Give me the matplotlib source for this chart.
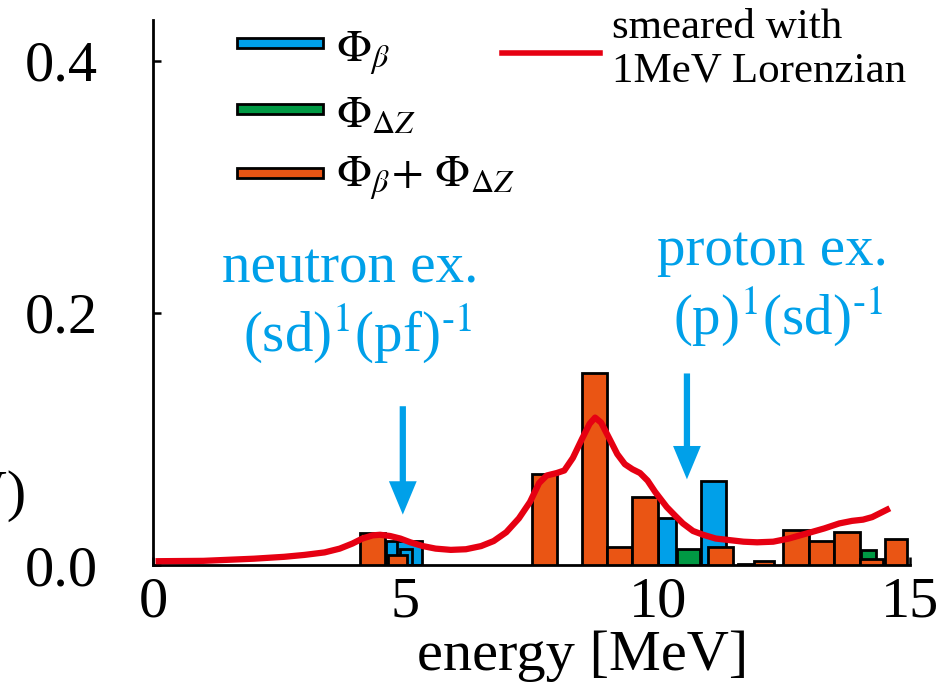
import matplotlib
matplotlib.use("Agg")
import matplotlib.pyplot as plt
from matplotlib.patches import Rectangle
from matplotlib.lines import Line2D

plt.rcParams['font.family'] = ['Liberation Serif', 'DejaVu Serif']
plt.rcParams['mathtext.fontset'] = 'stix'

# Phi_beta bars (left edge [MeV], width [MeV], strength)
beta_left = [4.62, 4.83, 4.90, 10.00, 10.86]
beta_width = [0.50, 0.50, 0.24, 0.36, 0.49]
beta_val = [0.019, 0.019, 0.013, 0.037, 0.067]

# Phi_DeltaZ bars
dz_left = [10.38, 14.03]
dz_width = [0.45, 0.30]
dz_val = [0.013, 0.012]

# Phi_beta + Phi_DeltaZ bars
sum_left = [4.10, 4.66, 7.50, 8.50, 9.00, 9.50, 11.00, 11.60, 11.90,
            12.48, 13.00, 13.50, 14.00, 14.50]
sum_width = [0.50, 0.37, 0.50, 0.50, 0.50, 0.50, 0.50, 0.30, 0.40,
             0.52, 0.50, 0.50, 0.47, 0.45]
sum_val = [0.025, 0.008, 0.072, 0.152, 0.014, 0.054, 0.014, 0.001, 0.003,
           0.028, 0.019, 0.026, 0.005, 0.021]

# smeared curve
curve_e = [0.05, 1.0, 2.0, 2.6, 3.0, 3.4, 3.7, 3.95, 4.15, 4.35, 4.5, 4.7,
           4.9, 5.1, 5.35, 5.6, 5.9, 6.2, 6.5, 6.75, 7.0, 7.25, 7.47, 7.65,
           7.8, 8.0, 8.15, 8.32, 8.5, 8.65, 8.76, 8.88, 9.06, 9.2, 9.35,
           9.5, 9.65, 9.8, 9.95, 10.18, 10.35, 10.5, 10.7, 10.9, 11.15,
           11.37, 11.7, 11.97, 12.29, 12.6, 12.95, 13.3, 13.6, 13.85,
           14.07, 14.25, 14.4, 14.6]
curve_v = [0.003, 0.0033, 0.005, 0.0065, 0.008, 0.010, 0.013, 0.017, 0.021,
           0.0235, 0.024, 0.023, 0.021, 0.018, 0.015, 0.013, 0.012, 0.0125,
           0.015, 0.019, 0.026, 0.037, 0.050, 0.065, 0.071, 0.073, 0.075,
           0.085, 0.100, 0.112, 0.117, 0.113, 0.099, 0.088, 0.080, 0.076,
           0.073, 0.067, 0.058, 0.046, 0.039, 0.033, 0.027, 0.024, 0.021,
           0.020, 0.0185, 0.018, 0.0185, 0.021, 0.025, 0.029, 0.033, 0.035,
           0.036, 0.038, 0.041, 0.045]

BLUE = '#00a0e9'
GREEN = '#009944'
ORANGE = '#ea5514'
RED = '#e60012'

W, H = 949, 687
fig = plt.figure(figsize=(W / 100, H / 100), dpi=100)
ax = fig.add_axes([153 / W, 1 - 565 / H, 757 / W, 545 / H])


def fx(x):
    return x / W


def fy(y):
    return 1 - y / H


ax.bar(beta_left, beta_val, width=beta_width, align='edge', color=BLUE,
       edgecolor='black', linewidth=2, zorder=2)
ax.bar(dz_left, dz_val, width=dz_width, align='edge', color=GREEN,
       edgecolor='black', linewidth=2, zorder=3)
ax.bar(sum_left, sum_val, width=sum_width, align='edge', color=ORANGE,
       edgecolor='black', linewidth=2, zorder=4)
ax.plot(curve_e, curve_v, color=RED, lw=4.5, zorder=5,
        solid_capstyle='butt', solid_joinstyle='round')

ax.set_xlim(0, 15)
ax.set_ylim(0, 0.4325)
ax.set_xticks([0, 5, 10, 15])
ax.set_yticks([0.0, 0.2, 0.4])
ax.set_yticklabels(['0.0', '0.2', '0.4'])
ax.tick_params(axis='both', direction='in', length=6, width=1.8,
               labelsize=42)
ax.tick_params(axis='y', pad=40)
ax.tick_params(axis='x', pad=8)
for s in ['top', 'right']:
    ax.spines[s].set_visible(False)
for s in ['left', 'bottom']:
    ax.spines[s].set_linewidth(2)
ax.set_facecolor('none')

# arrows and annotations
arrow_kw = dict(facecolor=BLUE, edgecolor='none', width=4.5, headwidth=20,
                headlength=24)
ax.annotate('', xy=(4.95, 0.040), xytext=(4.95, 0.126), arrowprops=arrow_kw)
ax.annotate('', xy=(10.58, 0.068), xytext=(10.58, 0.152), arrowprops=arrow_kw)

ax.text(3.9, 0.224, 'neutron ex.', color=BLUE, fontsize=41, ha='center',
        va='baseline')
ax.text(4.05, 0.170, r'(sd)$^{\text{1}}$(pf)$^{\text{-1}}$',
        color=BLUE, fontsize=41, ha='center', va='baseline')
ax.text(12.28, 0.238, 'proton ex.', color=BLUE, fontsize=41, ha='center',
        va='baseline')
ax.text(12.38, 0.183, r'(p)$^{\text{1}}$(sd)$^{\text{-1}}$',
        color=BLUE, fontsize=41, ha='center', va='baseline')

# legend drawn by hand
rows = [(43, 62, BLUE, r'$\Phi_\beta$'),
        (109, 127, GREEN, r'$\Phi_{\Delta Z}$'),
        (173, 187, ORANGE, r'$\Phi_\beta\!+\,\Phi_{\Delta Z}$')]
for yc, yb, col, lab in rows:
    fig.patches.append(Rectangle((fx(237), fy(yc + 5)), 86 / W, 10 / H,
                                 transform=fig.transFigure, facecolor=col,
                                 edgecolor='black', linewidth=2))
    fig.text(fx(336), fy(yb), lab, fontsize=33, va='baseline', ha='left')

fig.lines.append(Line2D([fx(502), fx(600)], [fy(53), fy(53)],
                        transform=fig.transFigure, color=RED, lw=4))
fig.text(fx(612), fy(38), 'smeared with', fontsize=31, va='baseline')
fig.text(fx(612), fy(82), '1MeV Lorenzian', fontsize=31, va='baseline')

fig.text(fx(583), fy(670), 'energy [MeV]', fontsize=42, ha='center',
         va='baseline')
# y-axis label, cut off at the left edge as in the source figure
fig.text(fx(27), fy(510), '(1/MeV)', fontsize=42, ha='right',
         va='baseline')

fig.savefig('out.png', dpi=100)
